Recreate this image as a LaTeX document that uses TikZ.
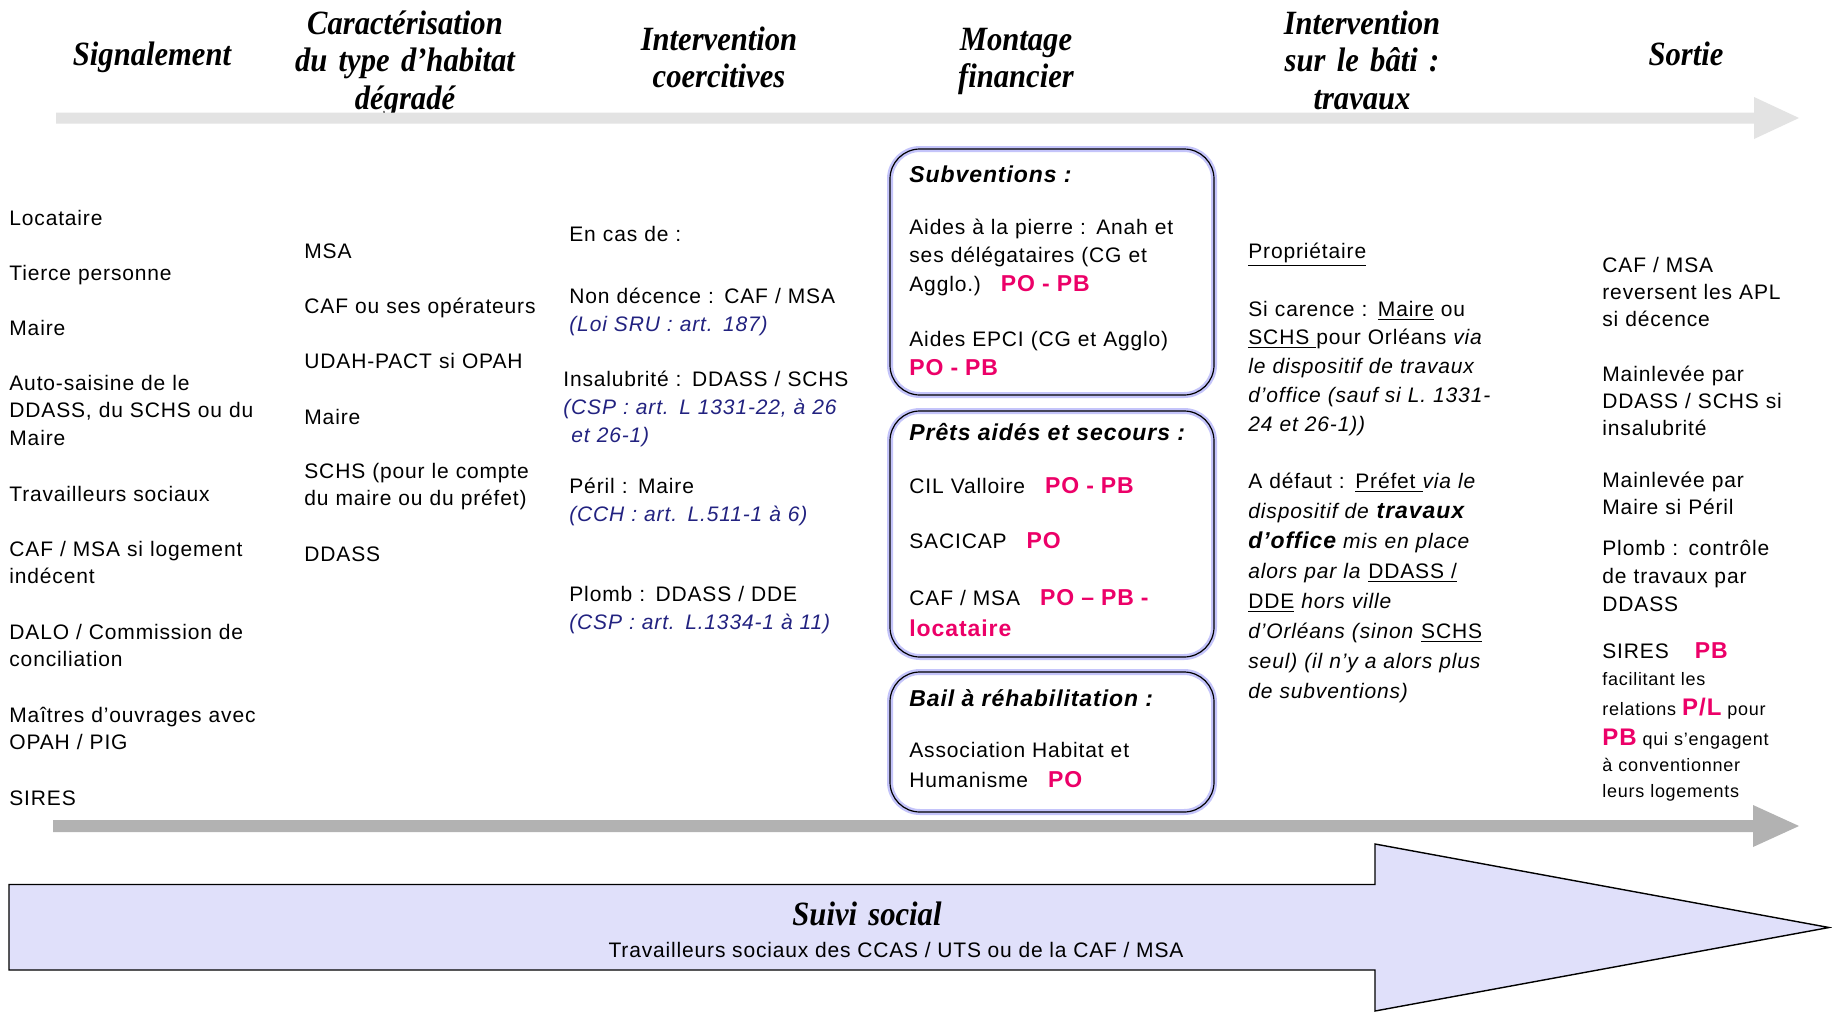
\documentclass[tikz,border=0pt]{standalone}
\usepackage{fontspec}
\setmainfont{Liberation Sans}[LetterSpace=4]
\newfontfamily\headfont{Liberation Serif}[FakeStretch=0.9]

\definecolor{pinkred}{RGB}{236,0,104}
\definecolor{lawblue}{RGB}{34,34,128}
\definecolor{lavline}{RGB}{196,196,250}
\definecolor{lavfill}{RGB}{224,224,250}
\definecolor{lightbar}{RGB}{227,227,227}
\definecolor{darkbar}{RGB}{178,178,178}

% pink bold tags (PO, PB, ...)
\newcommand{\tagpk}[1]{{\color{pinkred}\fontsize{11.5}{14}\selectfont\bfseries #1}}
% legal references in blue italics
\newcommand{\lawref}[1]{{\color{lawblue}\itshape #1}}

\begin{document}
\begin{tikzpicture}[x=0.5pt,y=-0.5pt,
  phase/.style={font=\headfont\bfseries\itshape\fontsize{17}{18.75}\selectfont,
    align=center, text width=125pt, anchor=base, inner sep=0pt},
  entry/.style={font=\fontsize{10.5}{13.75}\selectfont, align=left,
    text width=#1, anchor=base west, inner sep=0pt},
  entry/.default=140pt,
  boxtitle/.style={font=\fontsize{11.5}{14}\selectfont\bfseries\itshape,
    anchor=base west, inner sep=0pt},
  finbox/.style={draw=black, line width=0.6pt, rounded corners=15pt,
    preaction={draw=lavline, line width=3pt}},
  bar/.style={draw=none}]

\useasboundingbox (0,0) rectangle (1832,1013);
\fill[white] (0,0) rectangle (1832,1013);

% ---- phase headings ----
\node[phase] (h1) at (152,65) {Signalement};
\node[phase] (h2) at (405,34) {Caractérisation\\du type d’habitat\\dégradé};
\node[phase] (h3) at (719,50) {Intervention\\coercitives};
\node[phase] (h4) at (1016,50) {Montage\\financier};
\node[phase] (h5) at (1362,34) {Intervention\\sur le bâti :\\travaux};
\node[phase] (h6) at (1686,65) {Sortie};

% ---- timeline bars ----
\fill[lightbar] (56,112.5) -- (1754,112.5) -- (1754,97) -- (1799,118)
  -- (1754,139) -- (1754,123.5) -- (56,123.5) -- cycle;
\fill[darkbar] (53,820) -- (1753,820) -- (1753,805) -- (1799,826)
  -- (1753,847) -- (1753,832) -- (53,832) -- cycle;

% ---- Signalement ----
\node[entry] (s1) at (9,225.5) {Locataire};
\node[entry] (s2) at (9,280) {Tierce personne};
\node[entry] (s3) at (9,335) {Maire};
\node[entry] (s4) at (9,390) {Auto-saisine de le\\DDASS, du SCHS ou du\\Maire};
\node[entry] (s5) at (9,501) {Travailleurs sociaux};
\node[entry] (s6) at (9,556) {CAF / MSA si logement\\indécent};
\node[entry] (s7) at (9,639) {DALO / Commission de\\conciliation};
\node[entry] (s8) at (9,722) {Maîtres d'ouvrages avec\\OPAH / PIG};
\node[entry] (s9) at (9,805) {SIRES};

% ---- Caractérisation ----
\node[entry] (c1) at (304,258) {MSA};
\node[entry] (c2) at (304,313) {CAF ou ses opérateurs};
\node[entry] (c3) at (304,368) {UDAH-PACT si OPAH};
\node[entry] (c4) at (304,424) {Maire};
\node[entry] (c5) at (304,478) {SCHS (pour le compte\\du maire ou du préfet)};
\node[entry] (c6) at (304,561) {DDASS};

% ---- Interventions coercitives ----
\node[entry=160pt] (i1) at (569,241) {En cas de :};
\node[entry=160pt, font=\fontsize{10.5}{14}\selectfont] (i2) at (569,303)
  {Non décence : CAF / MSA\\\lawref{(Loi SRU : art. 187)}};
\node[entry=160pt, font=\fontsize{10.5}{14}\selectfont] (i3) at (563,386)
  {Insalubrité : DDASS / SCHS\\\lawref{(CSP : art. L 1331-22, à 26}\\\hspace*{4pt}\lawref{et 26-1)}};
\node[entry=160pt, font=\fontsize{10.5}{14}\selectfont] (i4) at (569,493)
  {Péril : Maire\\\lawref{(CCH : art. L.511-1 à 6)}};
\node[entry=160pt, font=\fontsize{10.5}{14}\selectfont] (i5) at (569,601)
  {Plomb : DDASS / DDE\\\lawref{(CSP : art. L.1334-1 à 11)}};

% ---- Montage financier ----
\draw[finbox] (890,149) rectangle (1214,395);
\draw[finbox] (890,411) rectangle (1214,657);
\draw[finbox] (890,672) rectangle (1214,812);

\node[boxtitle] (m1) at (909,182) {Subventions :};
\node[entry=155pt, font=\fontsize{10.5}{14.25}\selectfont] (m2) at (909,234)
  {Aides à la pierre : Anah et\\ses délégataires (CG et\\Agglo.)\hspace{10pt}\tagpk{PO - PB}};
\node[entry=155pt, font=\fontsize{10.5}{14.5}\selectfont] (m3) at (909,346)
  {Aides EPCI (CG et Agglo)\\\tagpk{PO - PB}};

\node[boxtitle] (m4) at (909,440) {Prêts aidés et secours :};
\node[entry=155pt] (m5) at (909,493) {CIL Valloire\hspace{10pt}\tagpk{PO - PB}};
\node[entry=155pt] (m6) at (909,548) {SACICAP\hspace{10pt}\tagpk{PO}};
\node[entry=155pt, font=\fontsize{10.5}{15.5}\selectfont] (m7) at (909,605)
  {CAF / MSA\hspace{10pt}\tagpk{PO – PB -}\\\tagpk{locataire}};

\node[boxtitle] (m8) at (909,706) {Bail à réhabilitation :};
\node[entry=155pt, font=\fontsize{10.5}{15}\selectfont] (m9) at (909,757)
  {Association Habitat et\\Humanisme\hspace{10pt}\tagpk{PO}};

% ---- Intervention sur le bâti ----
\node[entry] (b1) at (1248,258) {\underline{Propriétaire}};
\node[entry, font=\fontsize{10.5}{14.4}\selectfont] (b2) at (1248,316)
  {Si carence : \underline{Maire} ou\\\underline{SCHS\ }pour Orléans \textit{via}\\%
   \textit{le dispositif de travaux}\\\textit{d'office (sauf si L. 1331-}\\\textit{24 et 26-1))}};
\node[entry, font=\fontsize{10.5}{15.05}\selectfont] (b3) at (1248,488)
  {A défaut : \underline{Préfet\ }\textit{via le}\\%
   \textit{dispositif de }{\fontsize{11.5}{15}\selectfont\bfseries\itshape travaux}\\%
   {\fontsize{11.5}{15}\selectfont\bfseries\itshape d’office} \textit{mis en place}\\%
   \textit{alors par la }\underline{DDASS /}\\%
   \underline{DDE} \textit{hors ville}\\%
   \textit{d'Orléans (sinon }\underline{SCHS}\\%
   \textit{seul) (il n'y a alors plus}\\%
   \textit{de subventions)}};

% ---- Sortie ----
\node[entry=115pt, font=\fontsize{10.5}{13.5}\selectfont] (o1) at (1602,272)
  {CAF / MSA\\reversent les APL\\si décence};
\node[entry=115pt, font=\fontsize{10.5}{13.5}\selectfont] (o2) at (1602,381)
  {Mainlevée par\\DDASS / SCHS si\\insalubrité};
\node[entry=115pt, font=\fontsize{10.5}{13.5}\selectfont] (o3) at (1602,487)
  {Mainlevée par\\Maire si Péril};
\node[entry=115pt, font=\fontsize{10.5}{14}\selectfont] (o4) at (1602,555)
  {Plomb : contrôle\\de travaux par\\DDASS};
\node[entry=115pt] (o5) at (1602,658) {SIRES\hspace{13pt}\tagpk{PB}};
\node[entry=115pt, font=\fontsize{9}{13}\selectfont] (o6) at (1602,685)
  {facilitant les\\[2pt]relations {\color{pinkred}\fontsize{12}{13}\selectfont\bfseries P/L} pour\\[2pt]%
   {\color{pinkred}\fontsize{12}{13}\selectfont\bfseries PB} qui s'engagent\\à conventionner\\leurs logements};

% ---- Suivi social ----
\filldraw[fill=lavfill, draw=black, line width=0.7pt]
  (9,884.5) -- (1375,884.5) -- (1375,844) -- (1829,927.5)
  -- (1375,1011) -- (1375,970) -- (9,970) -- cycle;
\node[phase, text width=200pt] (ss) at (867,925) {Suivi social};
\node[anchor=base, inner sep=0pt, font=\fontsize{10.5}{13.75}\selectfont] (ssw) at (896,957)
  {Travailleurs sociaux des CCAS / UTS ou de la CAF / MSA};

\end{tikzpicture}
\end{document}
